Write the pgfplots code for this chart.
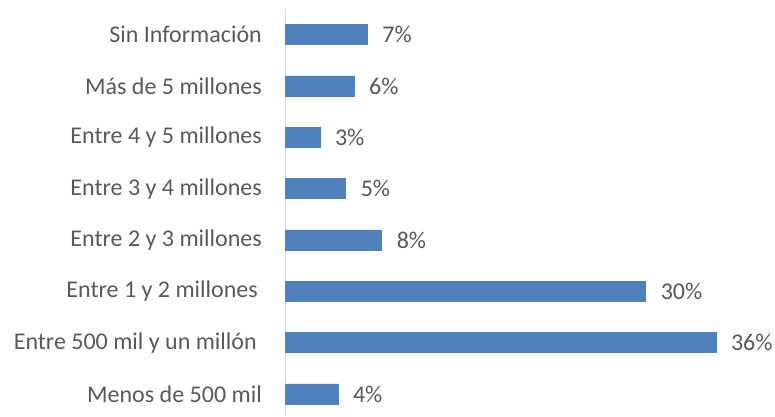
\documentclass[border=0pt]{standalone}
\usepackage{fontspec}
\setmainfont{Carlito}
\usepackage{pgfplots}
\pgfplotsset{compat=1.18}
\definecolor{barblue}{HTML}{4F81BD}
\definecolor{txtgray}{HTML}{595959}
\begin{document}
\begin{tikzpicture}
\begin{axis}[
  at={(285pt,0pt)}, anchor=south west,
  scale only axis, width=480pt, height=407pt,
  xbar, bar width=20pt, bar shift=0pt,
  xmin=0, xmax=40, ymin=-0.43, ymax=7.5,
  axis x line=none, axis y line*=left,
  y axis line style={draw=black!15, line width=1pt, -},
  ytick={0,...,7}, major tick length=0pt,
  yticklabels={Menos de 500 mil, Entre 500 mil y un millón\rule{5pt}{0pt}, Entre 1 y 2 millones\rule{4pt}{0pt}, Entre 2 y 3 millones, Entre 3 y 4 millones, Entre 4 y 5 millones, Más de 5 millones, Sin Información},
  yticklabel style={font=\fontsize{24}{28}\selectfont, text=txtgray, inner sep=0pt, xshift=-23pt},
  point meta=explicit symbolic,
  nodes near coords,
  nodes near coords style={font=\fontsize{24}{28}\selectfont, text=txtgray, anchor=west, inner sep=0pt, xshift=15pt},
  clip=false,
]
\addplot[fill=barblue, draw=barblue] coordinates {
  (4.4,0) [4\%]
  (35.9,1) [36\%]
  (30.05,2) [30\%]
  (8.05,3) [8\%]
  (5.05,4) [5\%]
  (2.9,5) [3\%]
  (5.75,6) [6\%]
  (6.85,7) [7\%]
};
\end{axis}
\pgfresetboundingbox
\path[use as bounding box] (0,0) rectangle (775pt,416pt);
\end{tikzpicture}
\end{document}
